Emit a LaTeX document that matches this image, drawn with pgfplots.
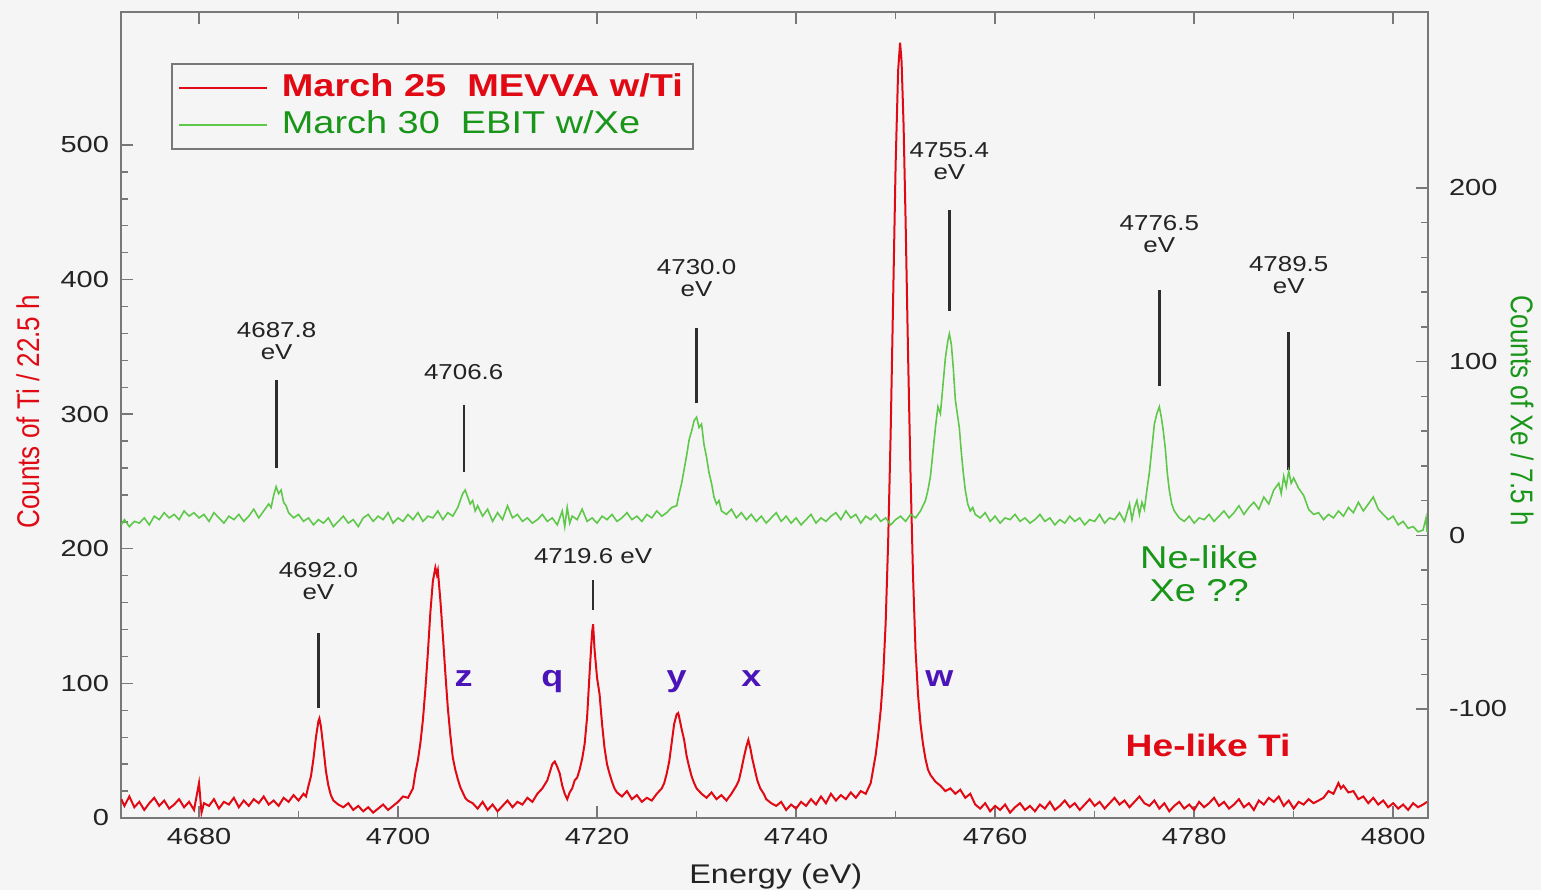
\documentclass[border=0pt]{standalone}
\usepackage{pgfplots}
\usepackage{pgfplotstable}
\pgfplotsset{compat=1.18}
\usepackage{fontspec}
\setmainfont{Liberation Sans}
\newfontfamily\widefont[FakeStretch=1.2]{Liberation Sans}
\newfontfamily\tickfont[FakeStretch=1.25]{Liberation Sans}
\newfontfamily\narrowfont[FakeStretch=0.83]{Liberation Sans}

\definecolor{bg}{RGB}{245,245,245}
\definecolor{tiRed}{RGB}{225,10,20}
\definecolor{xeGreen}{RGB}{95,200,75}
\definecolor{xeText}{RGB}{25,150,25}
\definecolor{lineBlue}{RGB}{75,20,185}
\definecolor{frame}{RGB}{120,120,120}
\definecolor{annot}{RGB}{45,45,45}
\definecolor{textDark}{RGB}{35,35,35}

% He-like Ti spectrum (counts per 22.5 h)
\pgfplotstableread{
x y
4672.2 14
4672.5 9
4673.0 16
4673.5 8
4674.0 12
4674.5 6
4675.0 11
4675.5 15
4676.0 9
4676.5 13
4677.0 7
4677.5 10
4678.0 14
4678.5 8
4679.0 12
4679.5 6
4680.0 26
4680.25 4
4680.5 11
4681.0 9
4681.5 14
4682.0 7
4682.5 12
4683.0 10
4683.5 15
4684.0 8
4684.5 13
4685.0 9
4685.5 14
4686.0 11
4686.5 16
4687.0 10
4687.5 13
4688.0 9
4688.5 15
4689.0 12
4689.5 17
4690.0 13
4690.5 18
4690.75 16
4691.0 24
4691.25 31
4691.5 44
4691.75 60
4692.0 72
4692.1 74
4692.25 68
4692.5 52
4692.75 35
4693.0 24
4693.25 17
4693.5 13
4694.0 10
4694.5 8
4695.0 11
4695.5 6
4696.0 9
4696.5 5
4697.0 8
4697.5 4
4698.0 7
4698.5 10
4699.0 6
4699.5 9
4700.0 12
4700.5 16
4701.0 15
4701.5 22
4701.75 34
4702.0 43
4702.25 56
4702.5 73
4702.75 96
4703.0 123
4703.25 153
4703.5 176
4703.75 186
4703.9 181
4704.0 184
4704.25 162
4704.5 136
4704.75 108
4705.0 82
4705.25 62
4705.5 45
4705.75 36
4706.0 29
4706.25 23
4706.5 19
4706.75 15
4707.0 13
4707.5 11
4708.0 7
4708.5 12
4709.0 6
4709.5 10
4710.0 5
4710.5 9
4711.0 13
4711.5 8
4712.0 12
4712.5 10
4713.0 15
4713.5 12
4714.0 18
4714.5 22
4715.0 28
4715.25 34
4715.5 40
4715.75 42
4716.0 38
4716.25 33
4716.5 24
4716.75 18
4717.0 14
4717.25 19
4717.5 22
4717.75 28
4718.0 30
4718.25 36
4718.5 44
4718.75 55
4719.0 75
4719.25 108
4719.5 138
4719.6 144
4719.75 125
4720.0 104
4720.25 92
4720.5 70
4720.75 52
4721.0 40
4721.25 33
4721.5 27
4721.75 22
4722.0 19
4722.5 16
4723.0 20
4723.5 14
4724.0 17
4724.5 12
4725.0 15
4725.5 13
4726.0 18
4726.5 22
4726.75 26
4727.0 33
4727.25 42
4727.5 56
4727.75 70
4728.0 77
4728.15 78
4728.25 75
4728.5 66
4728.75 58
4729.0 46
4729.25 38
4729.5 31
4729.75 26
4730.0 22
4730.5 18
4731.0 15
4731.5 19
4732.0 14
4732.5 17
4733.0 13
4733.5 18
4734.0 24
4734.25 28
4734.5 36
4734.75 45
4735.0 53
4735.2 58
4735.4 52
4735.6 44
4735.85 36
4736.1 28
4736.4 22
4736.75 18
4737.0 14
4737.5 11
4738.0 9
4738.5 12
4739.0 6
4739.5 10
4740.0 7
4740.5 12
4741.0 9
4741.5 14
4742.0 10
4742.5 16
4743.0 11
4743.5 18
4744.0 13
4744.5 17
4745.0 14
4745.5 19
4746.0 15
4746.5 20
4747.0 18
4747.5 26
4748.0 47
4748.25 62
4748.5 80
4748.75 105
4749.0 145
4749.25 205
4749.5 285
4749.75 385
4750.0 485
4750.25 555
4750.45 576
4750.6 562
4750.8 515
4751.0 445
4751.25 345
4751.5 255
4751.75 180
4752.0 125
4752.25 92
4752.5 70
4752.75 55
4753.0 44
4753.25 36
4753.5 32
4754.0 27
4754.5 24
4755.0 20
4755.5 22
4756.0 18
4756.5 21
4757.0 15
4757.5 18
4758.0 10
4758.5 7
4759.0 11
4759.5 5
4760.0 9
4760.5 6
4761.0 10
4761.5 4
4762.0 8
4762.5 11
4763.0 6
4763.5 9
4764.0 5
4764.5 10
4765.0 7
4765.5 12
4766.0 6
4766.5 9
4767.0 13
4767.5 8
4768.0 11
4768.5 6
4769.0 10
4769.5 14
4770.0 9
4770.5 12
4771.0 7
4771.5 11
4772.0 15
4772.5 10
4773.0 13
4773.5 8
4774.0 12
4774.5 16
4775.0 11
4775.5 9
4776.0 13
4776.5 7
4777.0 11
4777.5 5
4778.0 9
4778.5 12
4779.0 7
4779.5 10
4780.0 6
4780.5 12
4781.0 8
4781.5 11
4782.0 15
4782.5 9
4783.0 12
4783.5 7
4784.0 10
4784.5 14
4785.0 8
4785.5 11
4786.0 6
4786.5 13
4787.0 10
4787.5 15
4788.0 12
4788.5 16
4789.0 9
4789.5 13
4790.0 7
4790.5 12
4791.0 10
4791.5 14
4792.0 11
4792.5 13
4793.0 15
4793.5 20
4794.0 18
4794.5 26
4794.75 22
4795.0 24
4795.5 19
4796.0 20
4796.5 14
4797.0 16
4797.5 11
4798.0 15
4798.5 10
4799.0 13
4799.5 8
4800.0 11
4800.5 7
4801.0 10
4801.5 6
4802.0 11
4802.5 8
4803.0 10
4803.4 12
}\tispec

% Xe spectrum (counts per 7.5 h)
\pgfplotstableread{
x y
4672.2 6
4672.5 9
4673.0 5
4673.5 8
4674.0 7
4674.5 10
4675.0 6
4675.5 11
4676.0 9
4676.5 13
4677.0 10
4677.5 12
4678.0 9
4678.5 14
4679.0 11
4679.5 13
4680.0 10
4680.5 12
4681.0 8
4681.5 13
4682.0 10
4682.5 7
4683.0 11
4683.5 9
4684.0 12
4684.5 8
4685.0 11
4685.5 15
4686.0 10
4686.5 14
4687.0 18
4687.25 16
4687.5 23
4687.75 28
4688.0 24
4688.25 26
4688.5 19
4688.75 17
4689.0 13
4689.5 10
4690.0 12
4690.5 8
4691.0 10
4691.5 6
4692.0 9
4692.5 7
4693.0 10
4693.5 5
4694.0 8
4694.5 11
4695.0 7
4695.5 9
4696.0 5
4696.5 10
4697.0 12
4697.5 8
4698.0 11
4698.5 9
4699.0 13
4699.5 7
4700.0 10
4700.5 8
4701.0 12
4701.5 9
4702.0 13
4702.5 8
4703.0 11
4703.5 10
4704.0 14
4704.5 9
4705.0 13
4705.5 11
4706.0 16
4706.25 20
4706.5 24
4706.75 26
4707.0 22
4707.25 18
4707.5 20
4707.75 14
4708.0 17
4708.5 11
4709.0 15
4709.5 8
4710.0 13
4710.5 9
4711.0 17
4711.5 10
4712.0 12
4712.5 8
4713.0 10
4713.5 7
4714.0 9
4714.5 12
4715.0 8
4715.5 10
4716.0 6
4716.5 14
4716.75 5
4717.0 16
4717.25 7
4717.5 11
4718.0 9
4718.5 15
4719.0 8
4719.5 10
4720.0 7
4720.5 11
4721.0 9
4721.5 12
4722.0 8
4722.5 10
4723.0 13
4723.5 9
4724.0 11
4724.5 8
4725.0 12
4725.5 10
4726.0 14
4726.5 11
4727.0 13
4727.5 16
4728.0 17
4728.25 24
4728.5 30
4728.75 38
4729.0 46
4729.25 55
4729.5 60
4729.75 66
4730.0 68
4730.25 62
4730.5 64
4730.75 52
4731.0 45
4731.25 36
4731.5 30
4731.75 22
4732.0 18
4732.25 20
4732.5 14
4733.0 12
4733.5 15
4734.0 10
4734.5 13
4735.0 9
4735.5 12
4736.0 8
4736.5 11
4737.0 7
4737.5 10
4738.0 13
4738.5 8
4739.0 11
4739.5 7
4740.0 10
4740.5 6
4741.0 9
4741.5 12
4742.0 7
4742.5 10
4743.0 8
4743.5 11
4744.0 13
4744.5 9
4745.0 14
4745.5 10
4746.0 12
4746.5 7
4747.0 11
4747.5 9
4748.0 12
4748.5 8
4749.0 10
4749.5 6
4750.0 9
4750.5 11
4751.0 8
4751.5 12
4752.0 10
4752.5 14
4753.0 20
4753.25 26
4753.5 34
4753.75 48
4754.0 62
4754.25 74
4754.5 70
4754.75 86
4755.0 102
4755.25 112
4755.4 116
4755.6 110
4755.8 96
4756.0 78
4756.2 70
4756.4 62
4756.6 48
4756.8 36
4757.0 26
4757.25 18
4757.5 14
4757.75 16
4758.0 12
4758.5 10
4759.0 13
4759.5 8
4760.0 11
4760.5 7
4761.0 10
4761.5 9
4762.0 12
4762.5 8
4763.0 10
4763.5 7
4764.0 9
4764.5 12
4765.0 8
4765.5 10
4766.0 6
4766.5 9
4767.0 7
4767.5 11
4768.0 8
4768.5 10
4769.0 6
4769.5 9
4770.0 8
4770.5 12
4771.0 7
4771.5 10
4772.0 9
4772.5 13
4773.0 8
4773.5 18
4773.75 9
4774.0 16
4774.25 20
4774.5 12
4774.75 19
4775.0 15
4775.25 26
4775.5 36
4775.75 50
4776.0 64
4776.25 70
4776.5 74
4776.7 68
4776.9 60
4777.1 50
4777.3 36
4777.5 26
4777.75 18
4778.0 14
4778.5 10
4779.0 8
4779.5 11
4780.0 7
4780.5 10
4781.0 9
4781.5 12
4782.0 8
4782.5 11
4783.0 14
4783.5 10
4784.0 13
4784.5 17
4785.0 12
4785.5 16
4786.0 19
4786.5 15
4787.0 22
4787.5 18
4788.0 26
4788.5 30
4788.75 24
4789.0 34
4789.25 28
4789.5 37
4789.75 30
4790.0 33
4790.5 27
4791.0 23
4791.5 15
4792.0 12
4792.5 13
4793.0 9
4793.5 12
4794.0 10
4794.5 14
4795.0 11
4795.5 16
4796.0 13
4796.5 19
4797.0 14
4797.5 18
4798.0 22
4798.5 15
4799.0 12
4799.5 9
4800.0 11
4800.5 6
4801.0 8
4801.5 4
4802.0 5
4802.5 2
4803.0 3
4803.3 10
4803.4 2
}\xespec

\pgfplotsset{
  common/.style={
    scale only axis, width=653.5pt, height=403pt,
    at={(0pt,0pt)}, anchor=south west,
    xmin=4672.16, xmax=4803.5,
    tick align=inside,
    major tick length=6pt, minor tick length=3.5pt,
    every tick/.style={draw=frame, line width=0.7pt},
    /pgf/number format/assume math mode=true,
    /pgf/number format/1000 sep={},
    tick label style={font=\tickfont\fontsize{11.6}{12}\selectfont, text=textDark},
  },
}

\begin{document}
\begin{tikzpicture}
\fill[bg] (-60.5pt,-36pt) rectangle (710pt,409pt);

\begin{axis}[
  common,
  ymin=0, ymax=598.8,
  xtick={4680,4700,...,4800}, minor x tick num=1,
  ytick={0,100,...,500}, minor y tick num=4,
  xtick pos=both, xticklabel pos=bottom, ytick pos=left,
  axis line style={draw=frame, line width=0.9pt},
  xticklabel style={yshift=-1.5pt},
  yticklabel style={xshift=-2.5pt},
  xlabel={Energy (eV)},
  ylabel={Counts of Ti / 22.5 h},
  every axis x label/.style={at={(rel axis cs:0.501,-0.072)}, anchor=center,
    font=\widefont\fontsize{13.5}{14}\selectfont, text=textDark},
  every axis y label/.style={at={(rel axis cs:-0.0712,0.504)}, anchor=center, rotate=90,
    font=\narrowfont\fontsize{15.7}{16}\selectfont, text=tiRed},
  legend image code/.code={\draw[#1] (0pt,0pt) -- (44pt,0pt);},
  legend style={at={(0.0383,0.9367)}, anchor=north west,
    draw=frame, line width=0.8pt, fill=bg,
    font=\widefont\fontsize{15.8}{17}\selectfont,
    inner xsep=3pt, inner ysep=3pt, row sep=0pt,
    nodes={inner sep=2pt, text height=11.3pt, text depth=3pt}},
  legend cell align=left,
]
\addplot[tiRed, line width=1pt] table {\tispec};
\addlegendentry{\hspace{5pt}\textcolor{tiRed}{\bfseries March 25~~MEVVA w/Ti}}
\addlegendimage{xeGreen, line width=0.8pt}
\addlegendentry{\hspace{5pt}\textcolor{xeText}{March 30~~EBIT w/Xe}}

% line markers for the energies quoted
\pgfplotsset{mk/.style={annot, line width=1.2pt, forget plot}}
\addplot[mk] coordinates {(4687.8,260) (4687.8,325.4)};
\addplot[mk] coordinates {(4706.6,257) (4706.6,306.8)};
\addplot[mk] coordinates {(4730.0,308) (4730.0,364)};
\addplot[mk] coordinates {(4755.4,377) (4755.4,451.7)};
\addplot[mk] coordinates {(4776.5,321) (4776.5,392)};
\addplot[mk] coordinates {(4789.5,258.5) (4789.5,361)};
\addplot[mk] coordinates {(4692.0,81.7) (4692.0,137.4)};
\addplot[mk] coordinates {(4719.6,154.5) (4719.6,176.8)};

\begin{scope}[every node/.style={font=\widefont\fontsize{10.8}{11}\selectfont, text=textDark, align=center}]
\node at (axis cs:4687.8,354) {4687.8\\eV};
\node at (axis cs:4706.6,331) {4706.6};
\node at (axis cs:4730.0,401) {4730.0\\eV};
\node at (axis cs:4755.4,488) {4755.4\\eV};
\node at (axis cs:4776.5,434) {4776.5\\eV};
\node at (axis cs:4789.5,403) {4789.5\\eV};
\node at (axis cs:4692.0,176) {4692.0\\eV};
\node at (axis cs:4719.6,194.6) {4719.6 eV};
\end{scope}

\begin{scope}[every node/.style={font=\widefont\bfseries\fontsize{15}{16}\selectfont, text=lineBlue, anchor=base}]
\node at (axis cs:4706.6,98) {z};
\node at (axis cs:4715.5,98) {q};
\node at (axis cs:4728.0,98) {y};
\node at (axis cs:4735.5,98) {x};
\node at (axis cs:4754.4,98) {w};
\end{scope}

\node[font=\widefont\bfseries\fontsize{15.5}{16}\selectfont, text=tiRed, anchor=base]
  at (axis cs:4781.4,46) {He-like Ti};
\node[font=\widefont\fontsize{15.8}{16.5}\selectfont, text=xeText, align=center]
  at (axis cs:4780.5,181.6) {Ne-like\\Xe ??};
\end{axis}

\begin{axis}[
  common,
  ymin=-162.8, ymax=301.3,
  xtick=\empty,
  ytick={-100,0,100,200}, minor y tick num=4,
  ytick pos=right, yticklabel pos=right,
  axis line style={draw=none},
  yticklabel style={xshift=7pt},
  ylabel={Counts of Xe / 7.5 h},
  every axis y label/.style={at={(rel axis cs:1.072,0.505)}, anchor=center, rotate=-90,
    font=\narrowfont\fontsize{15.7}{16}\selectfont, text=xeText},
]
\addplot[xeGreen, line width=0.8pt] table {\xespec};
\end{axis}

\pgfresetboundingbox
\useasboundingbox (-60.5pt,-36pt) rectangle (710pt,409pt);
\end{tikzpicture}
\end{document}
